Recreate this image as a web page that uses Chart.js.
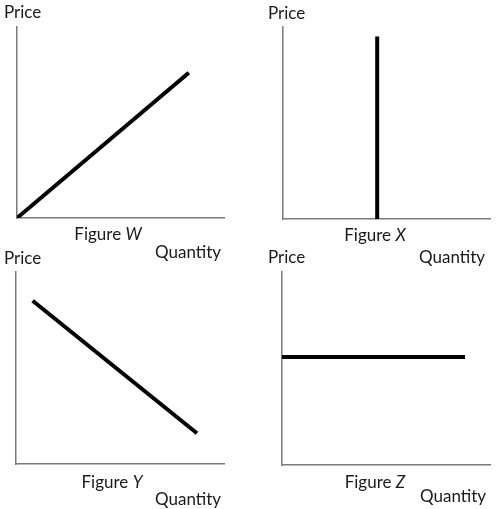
<!DOCTYPE html>
<html>
<head>
<meta charset="utf-8">
<script src="https://cdn.jsdelivr.net/npm/chart.js@4.4.1/dist/chart.umd.min.js"></script>
<style>
    body { margin: 0; background: #fff; }
    #wrap { position: relative; width: 496px; height: 509px; }
    #wrap canvas { position: absolute; }
</style>
</head>
<body>
<div id="wrap">
    <canvas id="figW" width="248" height="270" style="left:0;top:0"></canvas>
    <canvas id="figX" width="248" height="270" style="left:248px;top:0"></canvas>
    <canvas id="figY" width="248" height="259" style="left:0;top:250px"></canvas>
    <canvas id="figZ" width="248" height="259" style="left:248px;top:250px"></canvas>
</div>
<script>
// ================== DATA ==================
const priceLabel    = "Price";
const quantityLabel = "Quantity";
const figureLetters = ["W", "X", "Y", "Z"];

// each curve: quantity values (x) and price values (y), axes run 0..10
const wQuantity = [0, 8.3];
const wPrice    = [0, 7.6];
const xQuantity = [4.55, 4.55];
const xPrice    = [0, 9.5];
const yQuantity = [0.8, 8.7];
const yPrice    = [8.5, 1.6];
const zQuantity = [0, 8.8];
const zPrice    = [5.6, 5.6];

// ================== LAYOUT (per panel, canvas coords) ==================
const FONT = "Lato, 'Open Sans', sans-serif";
const FONT_SIZE = 17;

const panels = [
    { id: "figW", q: wQuantity, p: wPrice,
      pad: { left: 17, top: 27, right: 24, bottom: 52 },
      price: [4, 18], figure: [108, 240], quantity: [155, 258] },
    { id: "figX", q: xQuantity, p: xPrice,
      pad: { left: 35, top: 27, right: 6, bottom: 51 },
      price: [20, 19], figure: [127, 241], quantity: [171, 263] },
    { id: "figY", q: yQuantity, p: yPrice,
      pad: { left: 16, top: 22, right: 24, bottom: 45 },
      price: [4, 14], figure: [112, 238], quantity: [155, 255] },
    { id: "figZ", q: zQuantity, p: zPrice,
      pad: { left: 34, top: 22, right: 6, bottom: 44 },
      price: [20, 13], figure: [127, 238], quantity: [172, 252] }
];

// ================== TEXT PLUGIN ==================
const labelPlugin = {
    id: "econLabels",
    afterDraw(chart, args, opts) {
        const ctx = chart.ctx;
        ctx.save();
        ctx.fillStyle = "#1a1a1a";
        ctx.textBaseline = "alphabetic";
        ctx.font = FONT_SIZE + "px " + FONT;

        ctx.textAlign = "left";
        ctx.fillText(priceLabel, opts.price[0], opts.price[1]);
        ctx.fillText(quantityLabel, opts.quantity[0], opts.quantity[1]);

        // "Figure " upright + italic letter, centred as one piece
        const word = "Figure ";
        const wWord = ctx.measureText(word).width;
        ctx.font = "italic " + FONT_SIZE + "px " + FONT;
        const wLetter = ctx.measureText(opts.letter).width;
        const start = opts.figure[0] - (wWord + wLetter) / 2;
        ctx.font = FONT_SIZE + "px " + FONT;
        ctx.fillText(word, start, opts.figure[1]);
        ctx.font = "italic " + FONT_SIZE + "px " + FONT;
        ctx.fillText(opts.letter, start + wWord, opts.figure[1]);
        ctx.restore();
    }
};

// ================== CHARTS ==================
function axis() {
    return {
        type: "linear",
        min: 0,
        max: 10,
        ticks: { display: false },
        grid: { display: false, drawTicks: false, tickLength: 0 },
        border: { display: true, color: "#7a7a7a", width: 1.5 }
    };
}

panels.forEach((pn, i) => {
    new Chart(document.getElementById(pn.id), {
        type: "line",
        data: {
            datasets: [{
                data: pn.q.map((v, k) => ({ x: v, y: pn.p[k] })),
                borderColor: "#000",
                borderWidth: 4,
                borderCapStyle: "butt",
                pointRadius: 0,
                fill: false
            }]
        },
        options: {
            responsive: false,
            animation: false,
            layout: { padding: pn.pad },
            scales: { x: axis(), y: axis() },
            plugins: {
                legend: { display: false },
                tooltip: { enabled: false },
                econLabels: {
                    letter: figureLetters[i],
                    price: pn.price,
                    figure: pn.figure,
                    quantity: pn.quantity
                }
            }
        },
        plugins: [labelPlugin]
    });
});
</script>
</body>
</html>
